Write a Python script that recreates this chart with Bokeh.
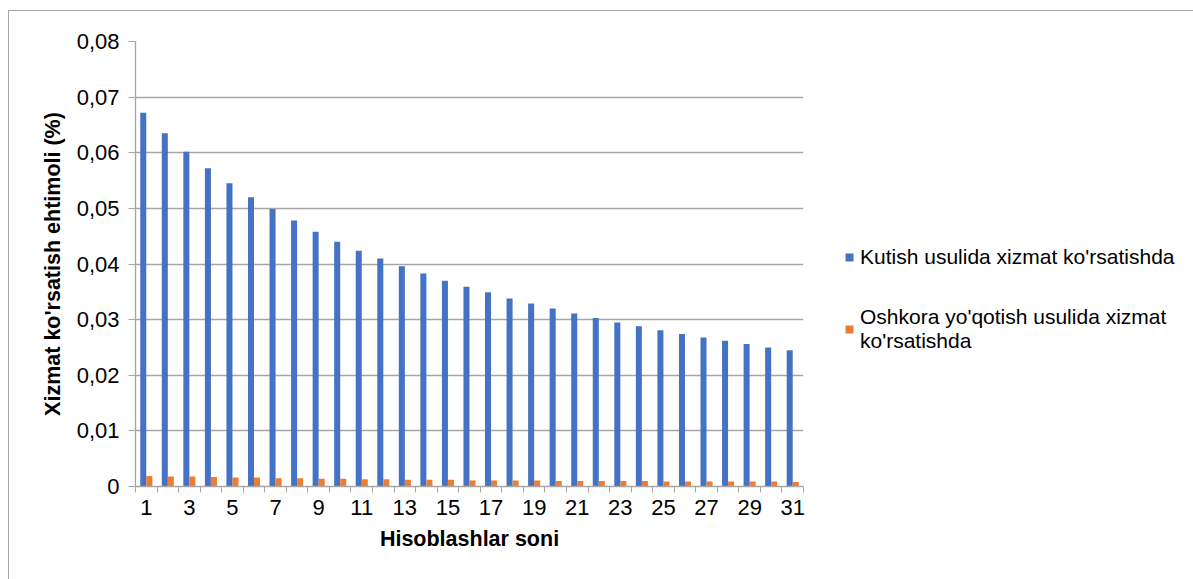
from bokeh.plotting import figure
from bokeh.models import (ColumnDataSource, Range1d, FixedTicker, CustomJSTickFormatter,
                          Legend, LegendItem)
from bokeh.transform import dodge
from bokeh.embed import file_html
from bokeh.resources import INLINE

categories = list(range(1, 32))
kutish = [0.0672, 0.0635, 0.0602, 0.0572, 0.0545, 0.0520, 0.0499, 0.0478, 0.0458, 0.0440,
          0.0424, 0.0410, 0.0396, 0.0383, 0.0370, 0.0359, 0.0349, 0.0338, 0.0329, 0.0320,
          0.0311, 0.0303, 0.0295, 0.0288, 0.0281, 0.0274, 0.0268, 0.0262, 0.0256, 0.0250,
          0.0245]
oshkora = [0.0019, 0.0018, 0.0018, 0.0017, 0.0016, 0.0016, 0.0015, 0.0015, 0.0014, 0.0014,
           0.0013, 0.0013, 0.0012, 0.0012, 0.0012, 0.0011, 0.0011, 0.0011, 0.0011, 0.0010,
           0.0010, 0.0010, 0.0010, 0.0010, 0.0009, 0.0009, 0.0009, 0.0009, 0.0009, 0.0009,
           0.0008]
x_tick_labels = [str(c) for c in categories if c % 2 == 1]
series_names = ["Kutish usulida xizmat ko'rsatishda",
                "Oshkora yo'qotish usulida xizmat\nko'rsatishda"]
x_title = "Hisoblashlar soni"
y_title = "Xizmat ko'rsatish ehtimoli (%)"

FONT = "Liberation Sans"
GRID = "#a6a6a6"

src = ColumnDataSource(dict(x=categories, a=kutish, b=oshkora))

p = figure(width=1185, height=569, output_backend="svg", toolbar_location=None,
           x_range=Range1d(0.5, 31.5), y_range=Range1d(0, 0.08),
           frame_width=668, frame_height=445,
           min_border_left=126, min_border_top=30, min_border_right=391, min_border_bottom=94,
           margin=(10, 0, 0, 8))
p.styles = {"border-top": "1px solid #a6a6a6", "border-left": "1px solid #a6a6a6"}
p.outline_line_color = None
p.background_fill_color = "white"
p.border_fill_color = "white"

r1 = p.vbar(x=dodge("x", -0.14, range=p.x_range), top="a", width=0.28, source=src,
            fill_color="#4472C4", line_color=None)
r2 = p.vbar(x=dodge("x", 0.14, range=p.x_range), top="b", width=0.28, source=src,
            fill_color="#ED7D31", line_color=None)

# x axis
p.xaxis.ticker = FixedTicker(ticks=[int(t) for t in x_tick_labels],
                             minor_ticks=[c - 0.5 for c in categories] + [categories[-1] + 0.5])
p.xaxis.major_tick_line_color = None
p.xaxis.minor_tick_line_color = GRID
p.xaxis.minor_tick_out = 6
p.xaxis.minor_tick_in = 0
p.xaxis.axis_line_color = GRID
p.xaxis.axis_line_width = 1.3
p.xaxis.major_label_text_font = FONT
p.xaxis.major_label_text_font_size = "22px"
p.xaxis.major_label_text_color = "#000000"
p.xaxis.major_label_standoff = 7
p.xaxis.axis_label = x_title
p.xaxis.axis_label_text_font = FONT
p.xaxis.axis_label_text_font_style = "bold"
p.xaxis.axis_label_text_font_size = "21.5px"
p.xaxis.axis_label_text_color = "#000000"
p.xaxis.axis_label_standoff = 9

# y axis
p.yaxis.ticker = FixedTicker(ticks=[i * 0.01 for i in range(9)], minor_ticks=[])
p.yaxis.formatter = CustomJSTickFormatter(
    code="return Math.abs(tick) < 1e-9 ? '0' : tick.toFixed(2).replace('.', ',');")
p.yaxis.major_tick_line_color = GRID
p.yaxis.major_tick_out = 7
p.yaxis.major_tick_in = 0
p.yaxis.minor_tick_line_color = None
p.yaxis.axis_line_color = GRID
p.yaxis.axis_line_width = 1.3
p.yaxis.major_label_text_font = FONT
p.yaxis.major_label_text_font_size = "22px"
p.yaxis.major_label_text_color = "#000000"
p.yaxis.major_label_standoff = 9
p.yaxis.axis_label = y_title
p.yaxis.axis_label_text_font = FONT
p.yaxis.axis_label_text_font_style = "bold"
p.yaxis.axis_label_text_font_size = "21.5px"
p.yaxis.axis_label_text_color = "#000000"
p.yaxis.axis_label_standoff = 9

p.xgrid.grid_line_color = None
p.ygrid.ticker = FixedTicker(ticks=[i * 0.01 for i in range(1, 9)])
p.ygrid.grid_line_color = GRID
p.ygrid.grid_line_width = 1.3

lg = Legend(items=[LegendItem(label=series_names[0], renderers=[r1]),
                   LegendItem(label=series_names[1], renderers=[r2])],
            location=(41, 133),
            glyph_width=10, glyph_height=10, label_standoff=6,
            label_text_font=FONT, label_text_font_size="21px", label_text_color="#000000",
            label_text_line_height=1.05,
            padding=0, margin=0, border_line_color=None, background_fill_alpha=0,
            spacing=36)
p.add_layout(lg, "right")

open("out.html", "w").write(file_html(p, INLINE))
